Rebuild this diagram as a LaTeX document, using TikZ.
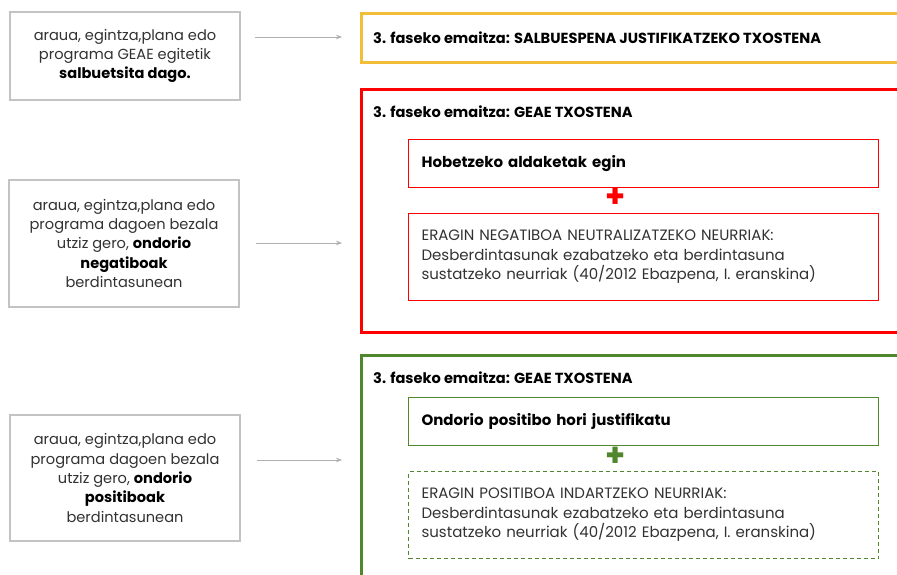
\documentclass[tikz,border=0pt]{standalone}
\usepackage{fontspec}
\setmainfont{Poppins}
\usetikzlibrary{positioning, arrows.meta}

\definecolor{framegray}{RGB}{195,195,195}
\definecolor{flowgray}{RGB}{175,175,175}
\definecolor{txtgray}{RGB}{50,50,50}
\definecolor{yellowok}{RGB}{242,190,55}
\definecolor{redneg}{RGB}{255,0,0}
\definecolor{greenpos}{RGB}{80,135,45}

\tikzset{
  srcbox/.style={draw=framegray, line width=1.2pt, minimum width=230, align=center,
    text=txtgray, font=\fontsize{14.6}{19.3}\selectfont},
  resbox/.style={line width=2.8pt, minimum width=560, anchor=north west},
  restitle/.style={anchor=west, inner sep=0pt, font=\fontsize{14.6}{16}\selectfont\bfseries},
  inbox/.style={line width=1.1pt, minimum width=470, minimum height=48, anchor=north west,
    text width=444, inner xsep=13, align=left, text=txtgray, font=\fontsize{15}{19.5}\selectfont},
  plussign/.style={inner sep=0pt, font=\fontsize{32}{32}\selectfont\bfseries},
  flow/.style={draw=flowgray, line width=0.8pt, -{Stealth[length=6pt,width=4.5pt]}}
}

\begin{document}
\begin{tikzpicture}[x=1pt,y=-1pt]
\clip (0,0) rectangle (897,574);
\fill[white] (0,0) rectangle (897,574);

% left column: the three cases
\node[srcbox, minimum height=88] (src1) at (125,56)
  {araua, egintza,plana edo\\programa GEAE egitetik\\\textcolor{black}{\bfseries salbuetsita dago.}};
\node[srcbox, minimum height=127] (src2) at (124,243.5)
  {araua, egintza,plana edo\\programa dagoen bezala\\utziz gero, \textcolor{black}{\bfseries ondorio}\\\textcolor{black}{\bfseries negatiboak}\\berdintasunean};
\node[srcbox, minimum height=126] (src3) at (125,478)
  {araua, egintza,plana edo\\programa dagoen bezala\\utziz gero, \textcolor{black}{\bfseries ondorio}\\\textcolor{black}{\bfseries positiboak}\\berdintasunean};

% right column: results
\node[resbox, draw=yellowok, minimum height=49] (res1) at (360,12) {};
\node[restitle, right=13 of res1.west] (tit1) {3. faseko emaitza: SALBUESPENA JUSTIFIKATZEKO TXOSTENA};

\node[resbox, draw=redneg, minimum height=243] (res2) at (360,88) {};
\node[restitle] (tit2) at (373,112) {3. faseko emaitza: GEAE TXOSTENA};
\node[inbox, draw=redneg] (hob) at (408,139) {\textcolor{black}{\bfseries Hobetzeko aldaketak egin}};
\node[plussign, text=redneg] (plus2) at (616,198) {+};
\node[inbox, draw=redneg, minimum height=87] (neu) at (408,213)
  {ERAGIN NEGATIBOA NEUTRALIZATZEKO NEURRIAK:\\Desberdintasunak ezabatzeko eta berdintasuna\\sustatzeko neurriak (40/2012 Ebazpena, I. eranskina)};

\node[resbox, draw=greenpos, minimum height=260] (res3) at (360,354) {};
\node[restitle] (tit3) at (373,378) {3. faseko emaitza: GEAE TXOSTENA};
\node[inbox, draw=greenpos] (jus) at (408,397) {\textcolor{black}{\bfseries Ondorio positibo hori justifikatu}};
\node[plussign, text=greenpos] (plus3) at (616,457) {+};
\node[inbox, draw=greenpos, dash pattern=on 4pt off 3pt, minimum height=87] (ind) at (408,471)
  {ERAGIN POSITIBOA INDARTZEKO NEURRIAK:\\Desberdintasunak ezabatzeko eta berdintasuna\\sustatzeko neurriak (40/2012 Ebazpena, I. eranskina)};

% arrows
\coordinate (lvl1) at (0,37);
\coordinate (lvl2) at (0,243);
\coordinate (lvl3) at (0,460);
\draw[flow, shorten <=14, shorten >=18] (src1.east |- lvl1) -- (res1.west |- lvl1);
\draw[flow, shorten <=16, shorten >=18] (src2.east |- lvl2) -- (res2.west |- lvl2);
\draw[flow, shorten <=16, shorten >=18] (src3.east |- lvl3) -- (res3.west |- lvl3);
\end{tikzpicture}
\end{document}
